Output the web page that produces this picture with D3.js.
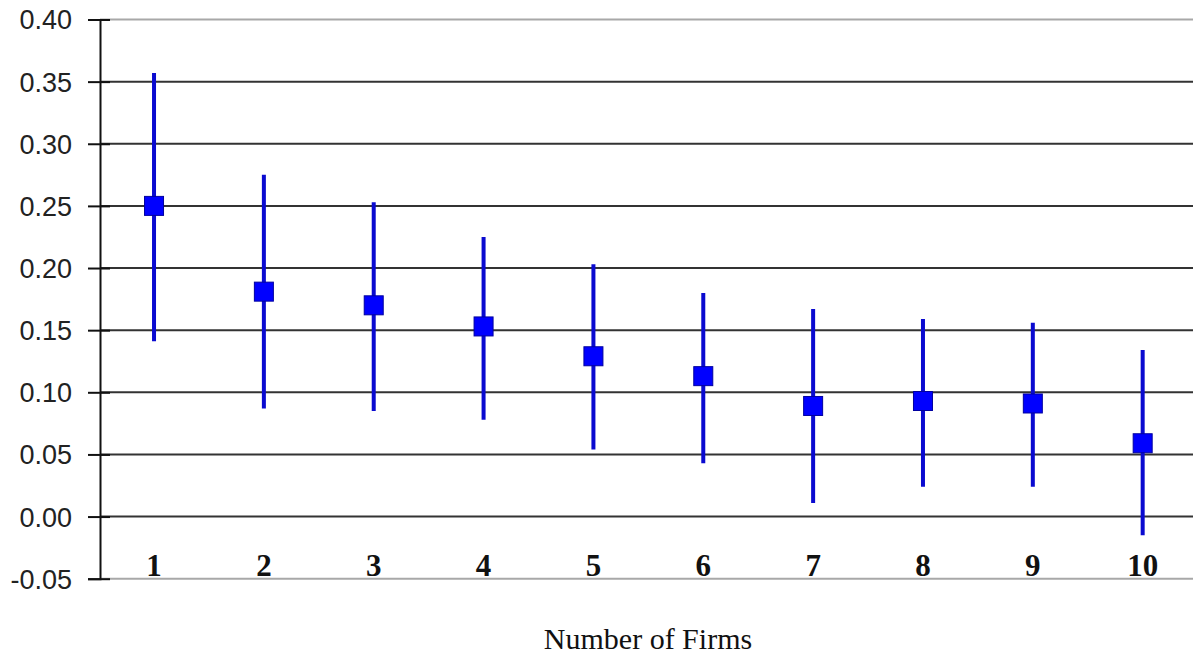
<!DOCTYPE html>
<html><head><meta charset="utf-8">
<script src="https://cdn.jsdelivr.net/npm/d3@7"></script>
<style>body{margin:0;background:#fff;}svg{display:block;}</style>
</head><body>
<svg id="c" width="1193" height="658"></svg>
<script>
const categories = ["1","2","3","4","5","6","7","8","9","10"];
const means = [0.250, 0.181, 0.170, 0.153, 0.129, 0.113, 0.089, 0.093, 0.091, 0.059];
const upper = [0.357, 0.275, 0.253, 0.225, 0.203, 0.180, 0.167, 0.159, 0.156, 0.134];
const lower = [0.141, 0.087, 0.085, 0.078, 0.054, 0.043, 0.011, 0.024, 0.024, -0.015];
const yTicks = [-0.05, 0, 0.05, 0.10, 0.15, 0.20, 0.25, 0.30, 0.35, 0.40];
const xTitle = "Number of Firms";

const svg = d3.select("#c");
const x = d3.scaleBand().domain(categories).range([99.1, 1197.6]).padding(0);
const y = d3.scaleLinear().domain([-0.05, 0.40]).range([578.7, 19.5]);
const axisX = 100;
const fmt = d => d3.format(".2f")(d).replace("\u2212", "-");

// gridlines
svg.append("g").selectAll("line").data(yTicks).join("line")
  .attr("x1", axisX).attr("x2", 1193)
  .attr("y1", d => y(d)).attr("y2", d => y(d))
  .attr("stroke", d => (d === 0.40 || d === -0.05) ? "#a8a8a8" : "#333")
  .attr("stroke-width", 2);

// y axis
const yAxis = d3.axisLeft(y).tickValues(yTicks).tickFormat(fmt).tickSize(12).tickPadding(16);
const gy = svg.append("g").attr("transform", `translate(${axisX},0)`).call(yAxis);
gy.select(".domain").attr("stroke", "#111").attr("stroke-width", 2);
gy.selectAll(".tick line").attr("stroke", "#111").attr("stroke-width", 2).attr("x2", 10).attr("x1", -12);
gy.selectAll(".tick text").attr("font-family", "'Liberation Sans', Arial, sans-serif")
  .attr("font-size", 27).attr("fill", "#222").attr("x", -28).attr("dy", "0.35em");

// category labels
svg.append("g").selectAll("text").data(categories).join("text")
  .attr("x", d => x(d) + x.bandwidth()/2).attr("y", 576)
  .attr("text-anchor", "middle")
  .attr("font-family", "'Liberation Serif', 'Times New Roman', serif")
  .attr("font-weight", "bold").attr("font-size", 31).attr("fill", "#111")
  .text(d => d);

// error bars
const rows = categories.map((c, i) => ({c, m: means[i], u: upper[i], l: lower[i]}));
svg.append("g").selectAll("line").data(rows).join("line")
  .attr("x1", d => x(d.c) + x.bandwidth()/2).attr("x2", d => x(d.c) + x.bandwidth()/2)
  .attr("y1", d => y(d.u)).attr("y2", d => y(d.l))
  .attr("stroke", "#0a0ad0").attr("stroke-width", 4);

// markers
const ms = 19;
svg.append("g").selectAll("rect").data(rows).join("rect")
  .attr("x", d => x(d.c) + x.bandwidth()/2 - ms/2).attr("y", d => y(d.m) - ms/2)
  .attr("width", ms).attr("height", ms)
  .attr("fill", "#0000ff").attr("stroke", "#0000a0").attr("stroke-width", 1);

// x title
svg.append("text").attr("x", 648).attr("y", 649).attr("text-anchor", "middle")
  .attr("font-family", "'Liberation Serif', 'Times New Roman', serif")
  .attr("font-size", 30).attr("fill", "#111").text(xTitle);
</script>
</body></html>
